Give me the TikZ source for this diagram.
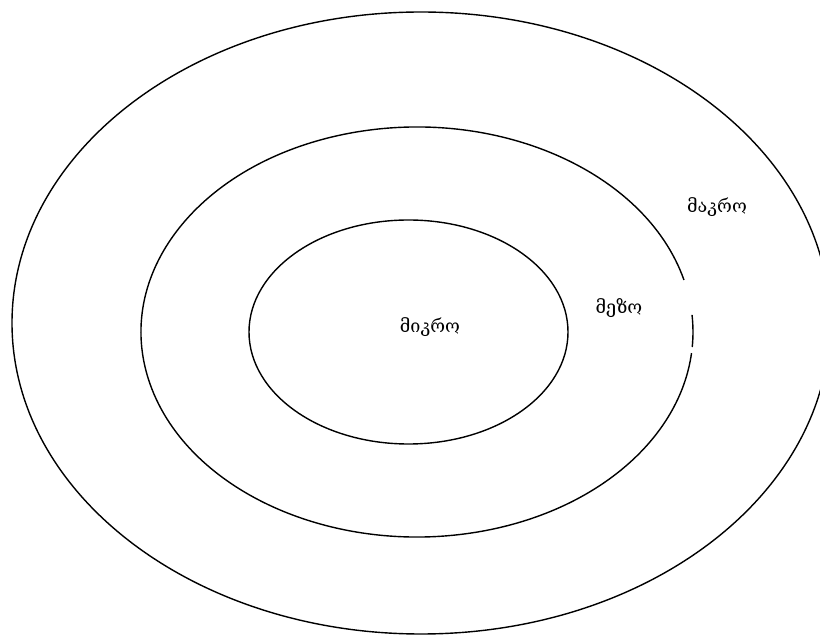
\documentclass[tikz,border=0pt]{standalone}
\usepackage{fontspec}
\newfontfamily\geofont{DejaVu Serif}
\begin{document}
\begin{tikzpicture}[x=1pt,y=1pt,
  ring/.style={line width=1.4pt},
  lbl/.style={font=\geofont\fontsize{18}{20}\selectfont, inner sep=0pt}]
\useasboundingbox (0,0) rectangle (820,635);
\clip (0,0) rectangle (820,635);
% outer
\draw[ring] (421,312) ellipse [x radius=409, y radius=311];
% middle, with gaps on the right
\draw[ring] (417,303) ++(14.7:276 and 205) arc [start angle=14.7, end angle=354.1, x radius=276, y radius=205];
\draw[ring] (417,303) ++(-4.2:276 and 205) arc [start angle=-4.2, end angle=4.8, x radius=276, y radius=205];
% inner
\draw[ring] (408.5,303) ellipse [x radius=159.5, y radius=112];
\node[lbl] (mikro) at (430,308) {მიკრო};
\node[lbl] (mezo) at (619,327) {მეზო};
\node[lbl] (makro) at (717,428) {მაკრო};
\end{tikzpicture}
\end{document}
